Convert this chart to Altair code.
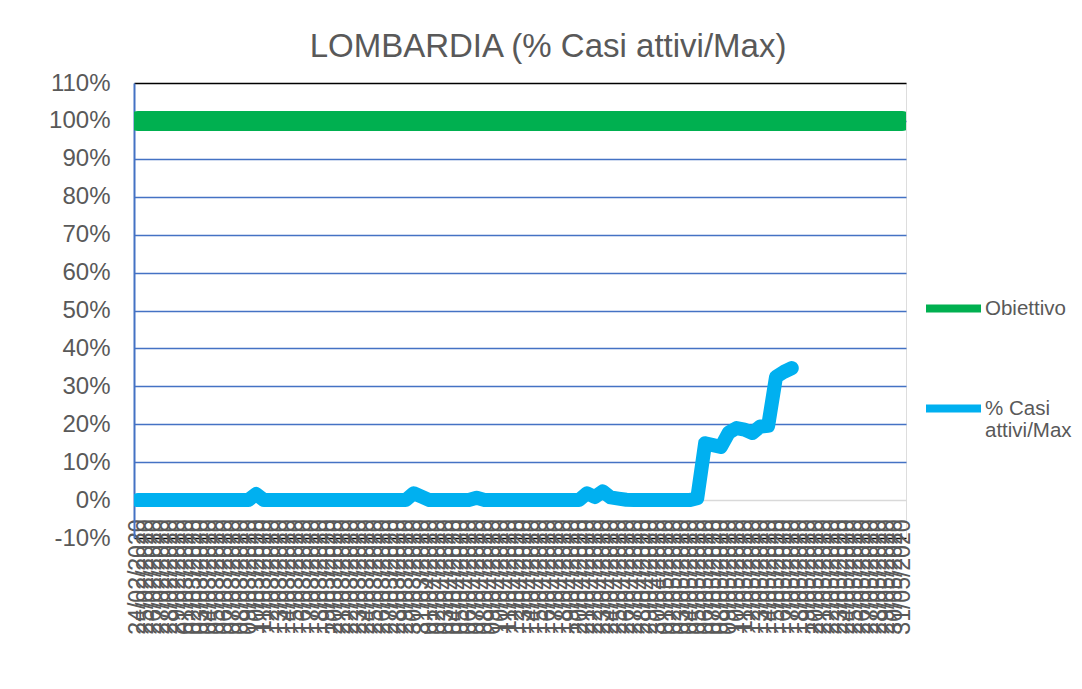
import altair as alt
import pandas as pd

FONT = "Liberation Sans"
GREY = "#595959"

# Category labels (daily, 24/02/2020 .. 31/05/2020)
dates = [d.strftime("%d/%m/%Y") for d in pd.date_range("2020-02-24", "2020-05-31", freq="D")]

series_names = ["Obiettivo", "% Casi attivi/Max"]
series_colors = ["#00B050", "#00B0F0"]

# Obiettivo: constant 100% target over the whole period
obiettivo = [1.0] * len(dates)

# % Casi attivi/Max, first 84 days
casi = [
    0, 0, 0, 0, 0, 0, 0, 0, 0, 0,
    0, 0, 0, 0, 0, 0.016, 0, 0, 0, 0,
    0, 0, 0, 0, 0, 0, 0, 0, 0, 0,
    0, 0, 0, 0, 0, 0.018, 0.009, 0, 0, 0,
    0, 0, 0, 0.006, 0, 0, 0, 0, 0, 0,
    0, 0, 0, 0, 0, 0, 0, 0.018, 0.008, 0.023,
    0.007, 0.004, 0.001, 0, 0, 0, 0, 0, 0, 0,
    0, 0.005, 0.150, 0.145, 0.140, 0.178, 0.190, 0.186, 0.177, 0.194,
    0.196, 0.325, 0.338, 0.348,
]

y_ticks = [-0.1, 0.0, 0.1, 0.2, 0.3, 0.4, 0.5, 0.6, 0.7, 0.8, 0.9, 1.0, 1.1]

rows = []
for d, v in zip(dates, obiettivo):
    rows.append({"date": d, "serie": series_names[0], "value": v})
for d, v in zip(dates, casi):
    rows.append({"date": d, "serie": series_names[1], "value": v})
df = pd.DataFrame(rows)

x_enc = alt.X(
    "date:O",
    sort=dates,
    title=None,
    axis=alt.Axis(
        labelAngle=270,
        labelFontSize=23,
        labelFont=FONT,
        labelColor=GREY,
        labelOverlap=False,
        labelFlush=False,
        labelBound=False,
        labelPadding=0,
        ticks=False,
        domain=False,
        grid=False,
        offset=-19,
        labelLimit=0,
    ),
)

y_enc = alt.Y(
    "value:Q",
    title=None,
    scale=alt.Scale(domain=[-0.1, 1.1], nice=False, zero=False),
    axis=alt.Axis(
        values=y_ticks,
        labelExpr="round(datum.value * 100) + '%'",
        labelFontSize=24,
        labelFont=FONT,
        labelColor=GREY,
        labelPadding=24,
        ticks=False,
        domainColor="#4472C4",
        domainWidth=2,
        gridWidth=1.5,
        gridColor={
            "condition": [
                {"test": "abs(datum.value) < 0.001", "value": "#D9D9D9"},
                {"test": "datum.value > 1.05 || datum.value < -0.05", "value": "#000000"},
            ],
            "value": "#4472C4",
        },
    ),
)

color_enc = alt.Color(
    "serie:N",
    scale=alt.Scale(domain=series_names, range=series_colors),
    sort=series_names,
    legend=alt.Legend(
        title=None,
        orient="none",
        legendX=788,
        legendY=194,
        padding=0,
        labelFont=FONT,
        labelFontSize=20.5,
        labelColor=GREY,
        labelOffset=0,
        symbolType="stroke",
        symbolSize=3025,
        symbolStrokeWidth=8,
        rowPadding=52,
        labelLimit=0,
        labelExpr="datum.label == '% Casi attivi/Max' ? ['% Casi', 'attivi/Max'] : datum.label",
    ),
)

base = alt.Chart(df).encode(x=x_enc, y=y_enc, color=color_enc)

green = base.transform_filter(alt.datum.serie == series_names[0]).mark_line(
    strokeWidth=20, strokeCap="round", strokeJoin="round", clip=True
)
blue = base.transform_filter(alt.datum.serie == series_names[1]).mark_line(
    strokeWidth=14, strokeCap="round", strokeJoin="round", clip=True
)

chart = (
    alt.layer(green, blue)
    .properties(
        width=772,
        height=455,
        padding={"left": 126, "top": 75, "right": 168, "bottom": 130},
        autosize=alt.AutoSizeParams(type="none"),
        title=alt.TitleParams(
            "LOMBARDIA (% Casi attivi/Max)",
            font=FONT,
            fontSize=33,
            fontWeight="normal",
            color=GREY,
            dx=28,
            offset=-19,
            frame="group",
            baseline="alphabetic",
        ),
    )
    .configure_view(stroke="#000000", strokeWidth=1.5)
    .configure(background="white")
)

chart.save("out.html", embed_options={"renderer": "svg", "actions": False})
